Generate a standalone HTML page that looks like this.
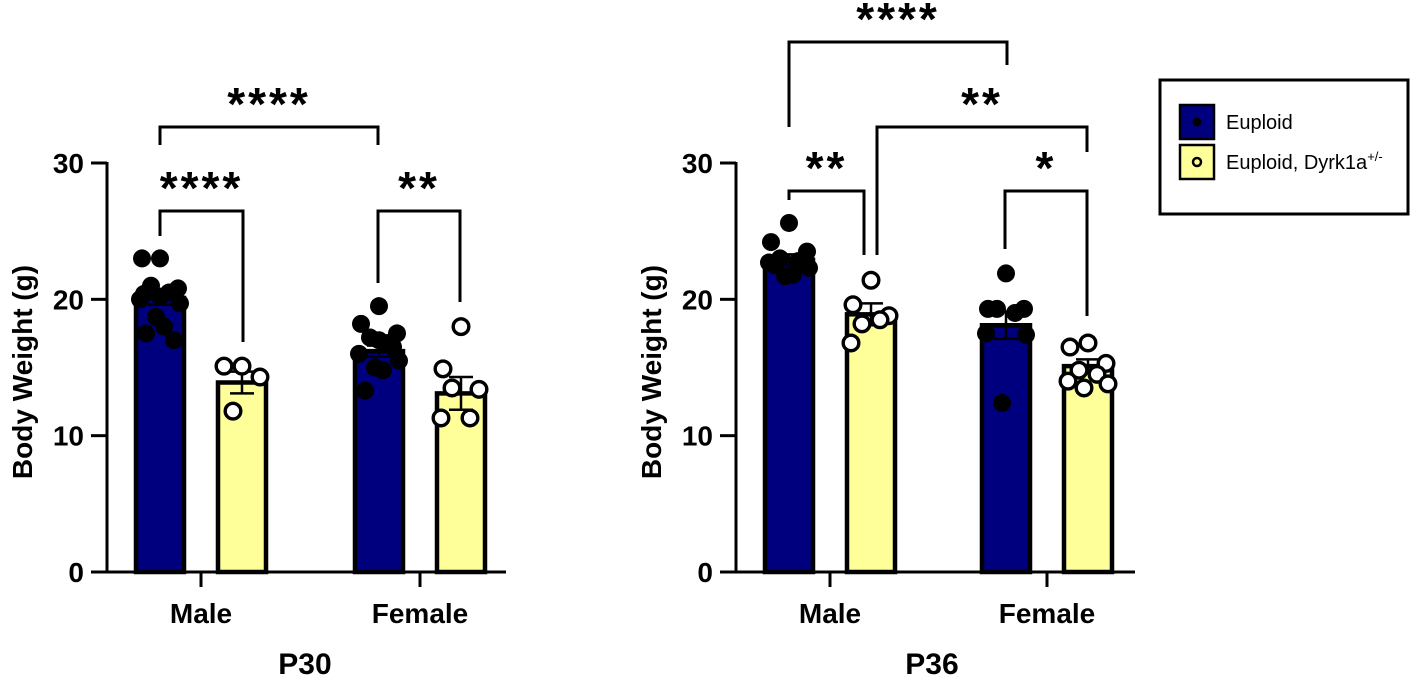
<!DOCTYPE html>
<html><head><meta charset="utf-8"><style>
html,body{margin:0;padding:0;background:#fff;width:1418px;height:680px;overflow:hidden}
text{font-family:"Liberation Sans",Arial,sans-serif;font-weight:bold;fill:#000}
</style></head><body>
<svg id="svg" width="1418" height="680" viewBox="0 0 1418 680" xmlns="http://www.w3.org/2000/svg"></svg>
<script>
const yTicks=[0,10,20,30];
const groups=["Male","Female"];
const p30EuploidMeans=[20.1,16.2];
const p30DyrkMeans=[13.9,13.1];
const p30EuploidSem=[0.5,0.4];
const p30DyrkSem=[0.8,1.2];
const p30EuploidPts=[[23,23,20.8,21,20.5,20,19.7,18.7,18,17.5,17,20.2,20.4],[19.5,18.2,17.5,17.2,16.8,16,15.5,15,14.8,13.3,16.5,17]];
const p30DyrkPts=[[15.1,15.1,14.3,11.8],[18,14.9,13.4,13.5,11.3,11.3]];
const p36EuploidMeans=[22.9,18.1];
const p36DyrkMeans=[18.9,15.1];
const p36EuploidSem=[0.4,1.0];
const p36DyrkSem=[0.8,0.5];
const p36EuploidPts=[[25.6,24.2,23.5,23,22.8,22.7,22.3,21.7,21.8,22.5],[21.9,19.3,19.3,19.3,19,17.5,17.4,12.4]];
const p36DyrkPts=[[21.4,19.6,18.8,18.2,18.5,16.8],[16.8,16.5,15.3,14.8,14.5,14,13.8,13.5]];

const NS="http://www.w3.org/2000/svg";
const svg=document.getElementById('svg');
function mk(tag,attrs,parent){const e=document.createElementNS(NS,tag);for(const k in attrs)e.setAttribute(k,attrs[k]);(parent||svg).appendChild(e);return e;}

function panel(cfg){
  const g=mk('g',{});
  
  
  const y0=572,y30=163,ax=cfg.ax,axEnd=cfg.axEnd;
  const y=v=>y0-(v/30)*(y0-y30);
  const ya=mk('line',{x1:ax,y1:y30-1,x2:ax,y2:y0+1.5,stroke:'#000','stroke-width':3},g);
  
  const xa=mk('line',{x1:ax-1.5,y1:y0,x2:axEnd,y2:y0,stroke:'#000','stroke-width':3},g);
  
  yTicks.forEach(t=>{
    mk('line',{x1:ax-16,y1:y(t),x2:ax,y2:y(t),stroke:'#000','stroke-width':3},g);
    const tx=mk('text',{x:ax-23,y:y(t)+10,'text-anchor':'end','font-size':28},g);
    tx.textContent=t;
    
  });
  const yt=mk('text',{x:0,y:0,'text-anchor':'middle','font-size':28,transform:`translate(${ax-75},372) rotate(-90)`},g);
  yt.textContent='Body Weight (g)';
  
  groups.forEach((gn,i)=>{
    const cx=cfg.centers[i];
    mk('line',{x1:cx,y1:y0,x2:cx,y2:y0+15,stroke:'#000','stroke-width':3},g);
    const lab=mk('text',{x:cx,y:623,'text-anchor':'middle','font-size':28},g);
    lab.textContent=gn;
    
    [[cfg.eMeans,cfg.eSem,cfg.ePts,'#00007f',-1,true],[cfg.dMeans,cfg.dSem,cfg.dPts,'#ffff99',1,false]].forEach(([m,s,p,col,side,filled])=>{
      const bx=cx+side*41;const w=48;
      const top=y(m[i]);
      const r=mk('rect',{x:bx-w/2,y:top,width:w,height:y0-top,fill:col,stroke:'#000','stroke-width':4.5},g);
      
      
      mk('line',{x1:bx,y1:y(m[i]-s[i]),x2:bx,y2:y(m[i]+s[i]),stroke:'#000','stroke-width':2.5},g);
      mk('line',{x1:bx-12,y1:y(m[i]+s[i]),x2:bx+12,y2:y(m[i]+s[i]),stroke:'#000','stroke-width':2.5},g);
      mk('line',{x1:bx-12,y1:y(m[i]-s[i]),x2:bx+12,y2:y(m[i]-s[i]),stroke:'#000','stroke-width':2.5},g);
      const offs=[0,-18,18,-9,9,-20,20,-4,4,-14,14,0,-16];
      p[i].forEach((v,k)=>{
        const c=mk('circle',{cx:bx+offs[k%offs.length],cy:y(v),r:filled?9:7.8,fill:filled?'#000':'#fff',stroke:'#000','stroke-width':filled?0:3.4},g);
        
      });
    });
  });
  cfg.brackets.forEach(b=>{
    const pth=mk('path',{d:`M${b[0]},${b[3]} V${b[2]} H${b[1]} V${b[4]}`,fill:'none',stroke:'#000','stroke-width':3},g);
    
    const st=mk('text',{x:b[6]!==undefined?b[6]:(b[0]+b[1])/2,y:b[2]-7,'text-anchor':'middle','font-size':46,'letter-spacing':3},g);
    st.textContent=b[5];
    
  });
  const tt=mk('text',{x:cfg.titleX,y:674,'text-anchor':'middle','font-size':30},g);
  tt.textContent=cfg.title;
  
}
panel({name:'p30-chart',ax:107,axEnd:506,centers:[201,420],eMeans:p30EuploidMeans,dMeans:p30DyrkMeans,eSem:p30EuploidSem,dSem:p30DyrkSem,ePts:p30EuploidPts,dPts:p30DyrkPts,title:'P30',titleX:305,
  brackets:[[160,378,127,145,145,'****'],[160,243,211,236,342,'****'],[378,460,211,283,302,'**']]});
panel({name:'p36-chart',ax:736,axEnd:1135,centers:[830,1047],eMeans:p36EuploidMeans,dMeans:p36DyrkMeans,eSem:p36EuploidSem,dSem:p36DyrkSem,ePts:p36EuploidPts,dPts:p36DyrkPts,title:'P36',titleX:932,
  brackets:[[789,1007,42,127,65,'****'],[877,1087,127,255,152,'**',982],[789,864,191,200,255,'**'],[1005,1087,191,249,316,'*',1046]]});
const lg=mk('g',{});

mk('rect',{x:1160,y:80,width:248,height:134,fill:'#fff',stroke:'#000','stroke-width':3},lg);
[['Euploid','#00007f',true,122],['Euploid, Dyrk1a','#ffff99',false,162]].forEach(([t,c,f,cy])=>{
  const e=mk('g',{},lg);
  
  mk('rect',{x:1180,y:cy-17,width:34,height:34,fill:c,stroke:'#000','stroke-width':2.5},e);
  mk('circle',{cx:1197,cy:cy,r:f?4.5:4,fill:f?'#000':'none',stroke:'#000','stroke-width':f?0:2.5},e);
  const tx=mk('text',{x:1226,y:cy+7,'font-size':20,style:'font-weight:normal'},e);
  tx.textContent=t;
  if(!f){const sp=mk('tspan',{dy:-8,'font-size':13},tx);sp.textContent='+/-';}
});
</script>
</body></html>
